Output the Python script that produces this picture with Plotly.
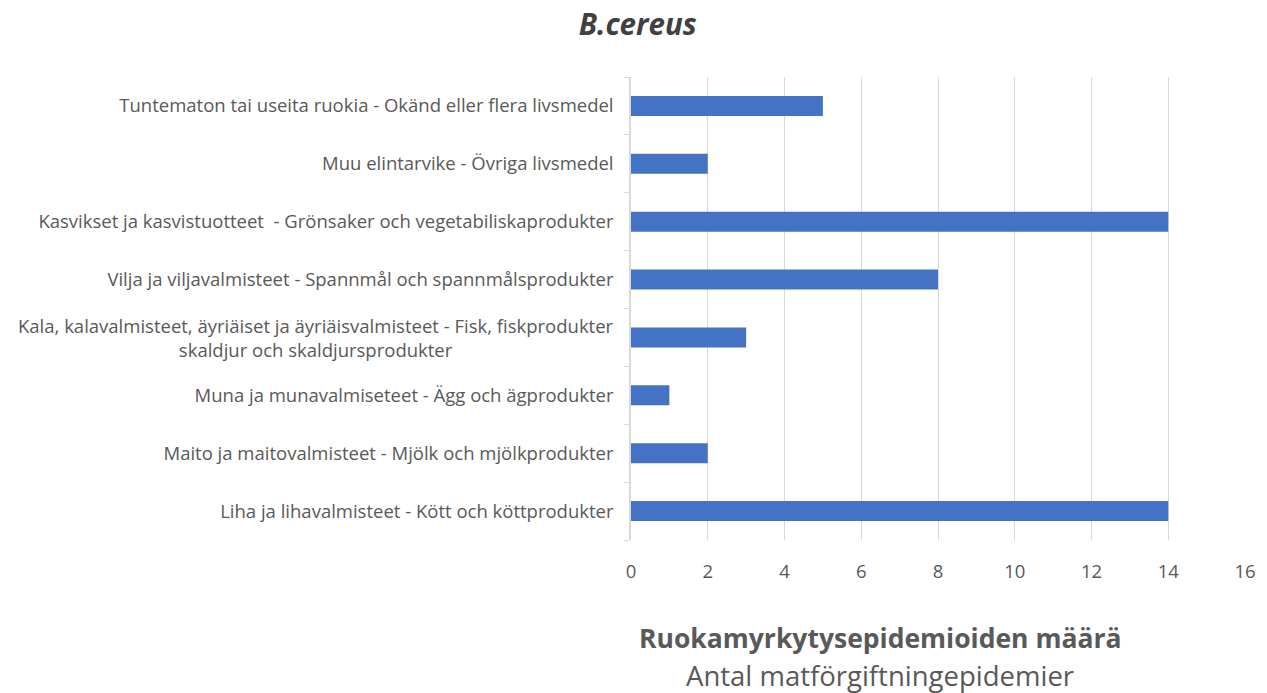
import plotly.graph_objects as go

categories = [
    "Liha ja lihavalmisteet - Kött och köttprodukter",
    "Maito ja maitovalmisteet - Mjölk och mjölkprodukter",
    "Muna ja munavalmiseteet - Ägg och ägprodukter",
    "Kala, kalavalmisteet, äyriäiset ja äyriäisvalmisteet - Fisk, fiskprodukter<br>skaldjur och skaldjursprodukter",
    "Vilja ja viljavalmisteet - Spannmål och spannmålsprodukter",
    "Kasvikset ja kasvistuotteet &nbsp;- Grönsaker och vegetabiliskaprodukter",
    "Muu elintarvike - Övriga livsmedel",
    "Tuntematon tai useita ruokia - Okänd eller flera livsmedel",
]
values = [14, 2, 1, 3, 8, 14, 2, 5]
x_ticks = [0, 2, 4, 6, 8, 10, 12, 14, 16]
title_text = "B.cereus"
x_title_1 = "Ruokamyrkytysepidemioiden määrä"
x_title_2 = "Antal matförgiftningepidemier"

FONT = "Open Sans"
GREY = "#595959"
LABEL_SIZE = 18.5

# multi-line labels are drawn as centred annotations; single-line ones as tick labels
tick_text = ["" if "<br>" in c else c for c in categories]

fig = go.Figure(go.Bar(
    x=values, y=categories, orientation="h",
    marker=dict(color="#4472C4", line=dict(width=0)),
))

fig.update_layout(
    width=1259, height=685,
    margin=dict(l=623, r=22, t=69, b=153),
    paper_bgcolor="white", plot_bgcolor="white",
    bargap=0.655,
    showlegend=False,
    font=dict(family=FONT, color=GREY, size=16),
)
fig.update_xaxes(
    range=[0, 16], tickvals=x_ticks, showgrid=True, gridcolor="#d9d9d9", gridwidth=1,
    zeroline=False, showline=False, ticks="", tickfont=dict(size=18.5, color=GREY),
    ticklabelstandoff=18,
)
fig.update_yaxes(
    type="category", categoryorder="array", categoryarray=categories,
    tickvals=categories, ticktext=tick_text,
    showline=True, linecolor="#d9d9d9", linewidth=1.5,
    ticks="outside", tickson="boundaries", ticklen=5, tickcolor="#d9d9d9",
    tickfont=dict(size=LABEL_SIZE, color=GREY), showgrid=False, ticklabelstandoff=12,
)
for c in categories:
    if "<br>" in c:
        fig.add_annotation(text=c, xref="paper", yref="y", x=0, y=c, xanchor="right",
                           yanchor="middle", align="center", showarrow=False, xshift=-15,
                           font=dict(family=FONT, size=LABEL_SIZE, color=GREY))
# chart title (centred over the whole figure)
fig.add_annotation(text=f"&nbsp;<b><i>{title_text}</i></b>&nbsp;", xref="paper", yref="paper",
                   x=0.0114, y=1.115, xanchor="center", yanchor="middle", showarrow=False,
                   font=dict(family=FONT, size=29.5, color="#404040"))
fig.add_annotation(text=f"<b>{x_title_1}</b>", xref="paper", yref="paper",
                   x=0.406, y=-0.2117, xanchor="center", yanchor="middle", showarrow=False,
                   font=dict(family=FONT, size=26.5, color=GREY))
fig.add_annotation(text=x_title_2, xref="paper", yref="paper",
                   x=0.406, y=-0.2916, xanchor="center", yanchor="middle", showarrow=False,
                   font=dict(family=FONT, size=27.5, color=GREY))

fig.write_html("out.html")
